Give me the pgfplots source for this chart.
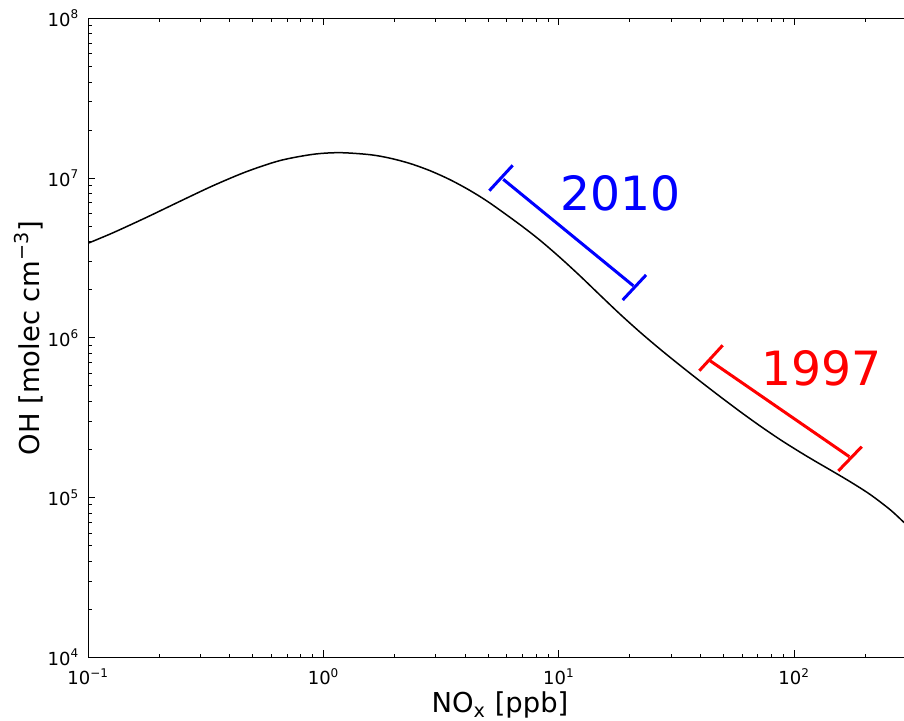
\documentclass[border=0pt]{standalone}
\usepackage{fontspec}
\setmainfont{DejaVu Sans}
\usepackage{pgfplots}
\pgfplotsset{compat=1.18}
\newcommand{\tl}[1]{10\textsuperscript{#1}}
\begin{document}
\begin{tikzpicture}
\begin{loglogaxis}[
  scale only axis,
  width=407.85pt, height=319.4pt,
  xmin=0.1, xmax=292.8, ymin=1e4, ymax=1e8,
  axis x line*=box, axis y line*=left,
  axis line style={line width=0.75pt},
  tick align=inside,
  major tick length=3.5pt, minor tick length=1.75pt,
  every tick/.style={black, line width=0.5pt},
  xtick={0.1,1,10,100},
  xticklabels={\tl{−1},\tl{0},\tl{1},\tl{2}},
  minor xtick={0.2,0.3,0.4,0.5,0.6,0.7,0.8,0.9,2,3,4,5,6,7,8,9,20,30,40,50,60,70,80,90,200},
  ytick={1e4,1e5,1e6,1e7,1e8},
  yticklabels={\tl{4},\tl{5},\tl{6},\tl{7},\tl{8}},
  minor ytick={2e4,3e4,4e4,5e4,6e4,7e4,8e4,9e4,2e5,3e5,4e5,5e5,6e5,7e5,8e5,9e5,2e6,3e6,4e6,5e6,6e6,7e6,8e6,9e6,2e7,3e7,4e7,5e7,6e7,7e7,8e7,9e7},
  ticklabel style={font=\fontsize{9}{9}\selectfont},
  xticklabel style={yshift=-2pt},
  yticklabel style={xshift=-1pt},
  xlabel={NO\textsubscript{x} [ppb]},
  ylabel={OH [molec cm\textsuperscript{−3}]},
  label style={font=\fontsize{13.7}{14}\selectfont},
  xlabel style={at={(axis description cs:0.5047,-0.0867)}, anchor=base},
  ylabel style={at={(axis description cs:-0.0603,0.5)}, rotate=0, anchor=base},
  clip=true,
]
\addplot[black, line width=0.75pt, smooth] coordinates {
(0.1,3.920e6) (0.1277,4.560e6) (0.1771,5.691e6) (0.2453,7.168e6) (0.3398,8.988e6)
(0.4711,1.0999e7) (0.6528,1.2893e7) (0.9041,1.4115e7) (1.174,1.4445e7) (1.5752,1.4034e7)
(1.9152,1.3343e7) (2.3294,1.2361e7) (2.8326,1.1142e7) (3.4448,9.786e6) (4.1894,8.374e6)
(5.0948,6.984e6) (6.834,5.115e6) (8.313,4.085e6) (10.108,3.187e6) (12.293,2.445e6)
(14.950,1.8535e6) (18.180,1.4095e6) (22.11,1.0872e6) (26.89,8.509e5) (32.70,6.737e5)
(39.78,5.364e5) (48.37,4.296e5) (58.83,3.460e5) (71.55,2.812e5) (87.01,2.311e5)
(105.85,1.927e5) (122.6,1.6926e5) (141.95,1.493e5) (172.63,1.2593e5) (210.0,1.0472e5)
(255.4,8.411e4) (290.9,7.054e4) (300,6.765e4)
};
% 2010 bar
\addplot[blue, line width=1.5pt] coordinates {(5.80,9.84e6) (20.72,2.12e6)};
\addplot[blue, line width=1.5pt] coordinates {(5.06,8.35e6) (6.364,1.204e7)};
\addplot[blue, line width=1.5pt] coordinates {(18.67,1.727e6) (23.46,2.477e6)};
% 1997 bar
\addplot[red, line width=1.5pt] coordinates {(43.86,7.20e5) (171.5,1.804e5)};
\addplot[red, line width=1.5pt] coordinates {(39.52,6.23e5) (49.67,8.99e5)};
\addplot[red, line width=1.5pt] coordinates {(153.9,1.468e5) (193.6,2.083e5)};
\node[blue, anchor=base, font=\fontsize{23.6}{24}\selectfont] at (axis cs:18.36,6.32e6) {2010};
\node[red, anchor=base, font=\fontsize{23.6}{24}\selectfont] at (axis cs:130.6,5.07e5) {1997};
\end{loglogaxis}
\pgfresetboundingbox
\useasboundingbox (-44.15pt,-31.35pt) rectangle (407.85pt,328.65pt);
\end{tikzpicture}
\end{document}
